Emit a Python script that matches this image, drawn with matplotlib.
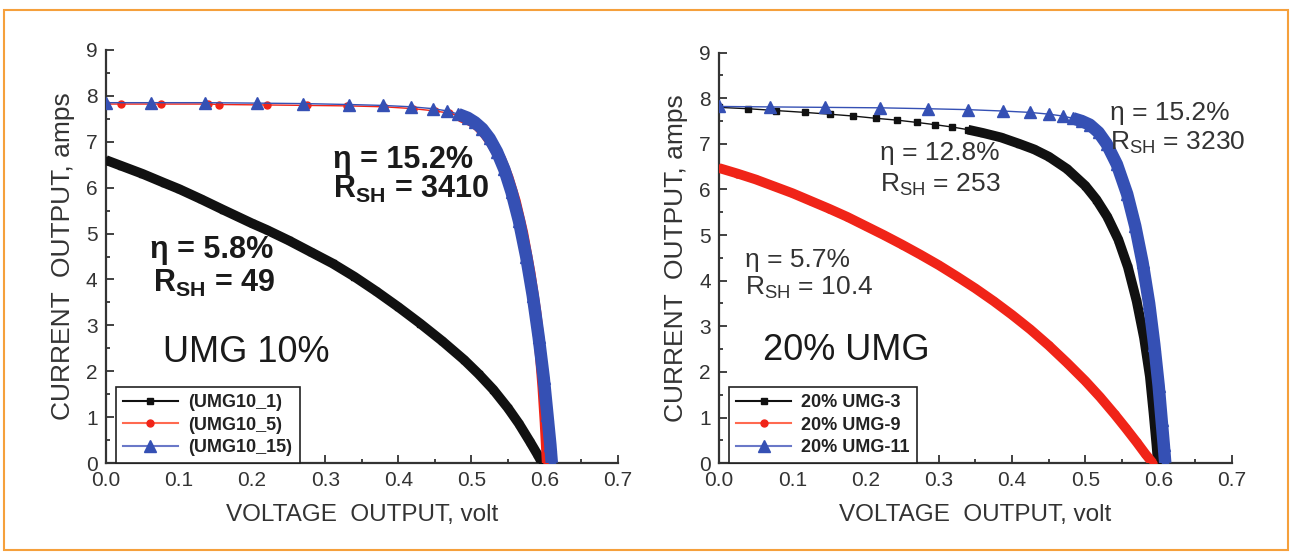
import matplotlib
matplotlib.use('Agg')
import matplotlib.pyplot as plt
from matplotlib.lines import Line2D
from matplotlib.patches import Rectangle
from matplotlib.ticker import MultipleLocator

plt.rcParams['font.family'] = ['Liberation Sans', 'DejaVu Sans']
plt.rcParams['mathtext.fontset'] = 'custom'
plt.rcParams['mathtext.rm'] = 'Liberation Sans'
plt.rcParams['mathtext.default'] = 'regular'

# ---- left panel: UMG 10% ----
v10_1 = [0.000, 0.020, 0.050, 0.080, 0.100, 0.130, 0.160, 0.200, 0.220, 0.250,
         0.280, 0.310, 0.340, 0.370, 0.400, 0.430, 0.460, 0.490, 0.510, 0.530,
         0.550, 0.565, 0.580, 0.590, 0.597]
i10_1 = [6.60, 6.48, 6.30, 6.10, 5.97, 5.75, 5.52, 5.22, 5.08, 4.85,
         4.60, 4.35, 4.06, 3.74, 3.40, 3.04, 2.66, 2.25, 1.94, 1.60,
         1.20, 0.86, 0.47, 0.20, 0.00]

v10_5 = [0.000, 0.020, 0.075, 0.140, 0.155, 0.220, 0.275, 0.330, 0.380, 0.420,
         0.450, 0.470, 0.485, 0.500, 0.510, 0.520, 0.530, 0.540, 0.550, 0.560,
         0.570, 0.580, 0.588, 0.594, 0.598, 0.601, 0.603, 0.604]
i10_5 = [7.82, 7.82, 7.82, 7.82, 7.81, 7.80, 7.79, 7.78, 7.76, 7.72,
         7.67, 7.62, 7.55, 7.45, 7.33, 7.15, 6.92, 6.62, 6.22, 5.70,
         5.02, 4.15, 3.30, 2.45, 1.65, 0.90, 0.30, 0.00]

v10_15 = [0.000, 0.062, 0.136, 0.207, 0.270, 0.332, 0.379, 0.418, 0.447, 0.467,
          0.482, 0.495, 0.505, 0.515, 0.525, 0.535, 0.545, 0.555, 0.565, 0.575,
          0.584, 0.592, 0.599, 0.604, 0.608, 0.610]
i10_15 = [7.85, 7.85, 7.85, 7.84, 7.83, 7.81, 7.79, 7.76, 7.72, 7.67,
          7.60, 7.52, 7.42, 7.28, 7.07, 6.78, 6.40, 5.90, 5.28, 4.50,
          3.65, 2.75, 1.85, 1.05, 0.40, 0.00]

# ---- right panel: 20% UMG ----
v20_3 = [0.000, 0.040, 0.078, 0.117, 0.151, 0.183, 0.214, 0.243, 0.270, 0.295,
         0.318, 0.340, 0.360, 0.385, 0.410, 0.430, 0.450, 0.475, 0.500, 0.515,
         0.530, 0.545, 0.558, 0.570, 0.580, 0.588, 0.593, 0.597, 0.599]
i20_3 = [7.80, 7.77, 7.73, 7.69, 7.65, 7.61, 7.56, 7.52, 7.47, 7.42,
         7.37, 7.31, 7.24, 7.14, 7.00, 6.88, 6.72, 6.45, 6.08, 5.78,
         5.40, 4.90, 4.30, 3.55, 2.75, 1.90, 1.10, 0.40, 0.00]

v20_9 = [0.000, 0.025, 0.050, 0.075, 0.100, 0.125, 0.150, 0.175, 0.200, 0.225,
         0.250, 0.275, 0.300, 0.325, 0.350, 0.375, 0.400, 0.425, 0.450, 0.475,
         0.500, 0.520, 0.540, 0.555, 0.570, 0.582, 0.592]
i20_9 = [6.47, 6.35, 6.22, 6.07, 5.92, 5.75, 5.58, 5.40, 5.20, 5.00,
         4.79, 4.57, 4.34, 4.09, 3.83, 3.55, 3.25, 2.93, 2.58, 2.20,
         1.80, 1.45, 1.07, 0.77, 0.46, 0.20, 0.00]

v20_11 = [0.000, 0.070, 0.145, 0.220, 0.285, 0.340, 0.387, 0.424, 0.451, 0.469,
          0.483, 0.495, 0.506, 0.518, 0.529, 0.543, 0.557, 0.568, 0.578, 0.587,
          0.594, 0.600, 0.604, 0.607, 0.609]
i20_11 = [7.82, 7.81, 7.80, 7.79, 7.77, 7.75, 7.72, 7.69, 7.65, 7.61,
          7.56, 7.50, 7.42, 7.25, 7.00, 6.55, 5.90, 5.20, 4.40, 3.50,
          2.60, 1.70, 0.95, 0.40, 0.00]

labels10 = ['(UMG10_1)', '(UMG10_5)', '(UMG10_15)']
labels20 = ['20% UMG-3', '20% UMG-9', '20% UMG-11']

BLACK = '#111111'
RED = '#f02418'
BLUE = '#3550b4'
styles = [  # colour, marker, marker size, legend line colour
    (BLACK, 's', 5, BLACK),
    (RED, 'o', 5, '#ff6a50'),
    (BLUE, '^', 8, '#6a78c8'),
]


def draw_curve(ax, v, i, style, dense_from, band):
    col, mk, ms, _ = style
    ax.plot(v, i, color=col, lw=1.0, marker=mk, ms=ms, mec=col, mfc=col, zorder=3)
    vv = [a for a in v if a >= dense_from]
    ii = [b for a, b in zip(v, i) if a >= dense_from]
    ax.plot(vv, ii, color=col, lw=band, solid_capstyle='butt',
            solid_joinstyle='round', zorder=3)


def style_axes(ax):
    ax.set_xlim(0, 0.7)
    ax.set_ylim(0, 9)
    ax.xaxis.set_major_locator(MultipleLocator(0.1))
    ax.xaxis.set_minor_locator(MultipleLocator(0.05))
    ax.yaxis.set_major_locator(MultipleLocator(1))
    ax.yaxis.set_minor_locator(MultipleLocator(0.5))
    ax.xaxis.set_major_formatter(plt.FuncFormatter(lambda x, p: '%.1f' % x))
    for s in ['top', 'right']:
        ax.spines[s].set_visible(False)
    for s in ['left', 'bottom']:
        ax.spines[s].set_linewidth(1.6)
        ax.spines[s].set_color('#333333')
    ax.tick_params(which='both', direction='in', color='#333333', width=1.3)
    ax.tick_params(which='major', length=6, labelsize=15, labelcolor='#333333', pad=6)
    ax.tick_params(which='minor', length=3)
    ax.set_xlabel('VOLTAGE  OUTPUT, volt', fontsize=17.5, color='#333333', labelpad=10)
    ax.set_ylabel('CURRENT  OUTPUT, amps', fontsize=19, color='#333333', labelpad=8)


def add_legend(ax, labels, weight):
    handles = [Line2D([0], [0], color=s[3], lw=1.5, marker=s[1], ms=s[2],
                      mfc=s[0], mec=s[0]) for s in styles]
    leg = ax.legend(handles, labels, loc='lower left', bbox_to_anchor=(0.02, 0.0),
                    borderaxespad=0, fancybox=False, framealpha=1, handlelength=3.0,
                    labelspacing=0.3, borderpad=0.4, handletextpad=0.6,
                    prop={'size': 13, 'weight': weight})
    leg.get_frame().set_edgecolor('#222222')
    leg.get_frame().set_linewidth(1.2)
    for t in leg.get_texts():
        t.set_color('#222222')


fig = plt.figure(figsize=(12.92, 5.54), dpi=100)
ax1 = fig.add_axes([0.082, 0.164, 0.396, 0.746])
ax2 = fig.add_axes([0.5565, 0.164, 0.397, 0.741])

draw_curve(ax1, v10_1, i10_1, styles[0], 0.0, 7)
draw_curve(ax1, v10_5, i10_5, styles[1], 0.48, 8)
draw_curve(ax1, v10_15, i10_15, styles[2], 0.47, 9)
style_axes(ax1)
add_legend(ax1, labels10, 'bold')

draw_curve(ax2, v20_3, i20_3, styles[0], 0.33, 7)
draw_curve(ax2, v20_9, i20_9, styles[1], 0.0, 7)
draw_curve(ax2, v20_11, i20_11, styles[2], 0.48, 9)
style_axes(ax2)
add_legend(ax2, labels20, 'bold')

tk = dict(color='#1a1a1a', va='center', ha='left')
ax1.text(0.311, 6.6, '\u03b7 = 15.2%', fontsize=22, fontweight='bold', **tk)
ax1.text(0.311, 5.95, 'R$_{SH}$ = 3410', fontsize=22, fontweight='bold', **tk)
ax1.text(0.060, 4.64, '\u03b7 = 5.8%', fontsize=22, fontweight='bold', **tk)
ax1.text(0.064, 3.92, 'R$_{SH}$ = 49', fontsize=22, fontweight='bold', **tk)
ax1.text(0.078, 2.42, 'UMG 10%', fontsize=26, **tk)

tk2 = dict(color='#333333', va='center', ha='left')
ax2.text(0.533, 7.68, '\u03b7 = 15.2%', fontsize=19, **tk2)
ax2.text(0.533, 7.02, 'R$_{SH}$ = 3230', fontsize=19, **tk2)
ax2.text(0.220, 6.80, '\u03b7 = 12.8%', fontsize=19, **tk2)
ax2.text(0.220, 6.10, 'R$_{SH}$ = 253', fontsize=19, **tk2)
ax2.text(0.035, 4.45, '\u03b7 = 5.7%', fontsize=19, **tk2)
ax2.text(0.035, 3.84, 'R$_{SH}$ = 10.4', fontsize=19, **tk2)
ax2.text(0.060, 2.48, '20% UMG', fontsize=26, **tk)

fig.patches.append(Rectangle((0.003, 0.007), 0.994, 0.975, transform=fig.transFigure,
                             fill=False, edgecolor='#f5a03c', lw=1.5, zorder=0))

fig.savefig('out.png', dpi=100)
